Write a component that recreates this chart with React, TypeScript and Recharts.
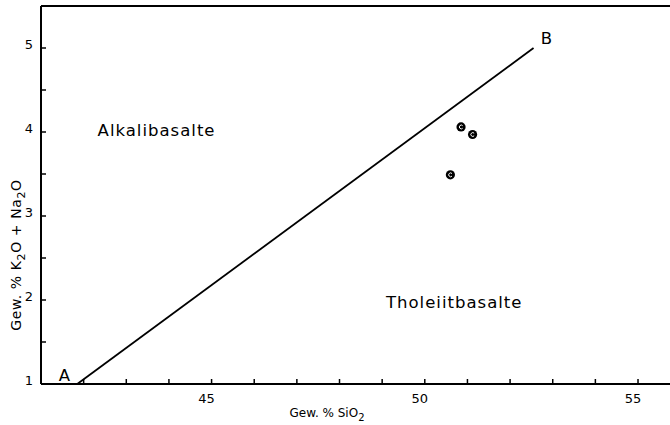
import React from 'react';
import { ComposedChart, XAxis, YAxis, Scatter, ReferenceLine, ReferenceDot } from 'recharts';

const xDomain = [41, 55.75];
const yDomain = [1, 5.5];
const xTicks = [42, 43, 44, 45, 46, 47, 48, 49, 50, 51, 52, 53, 54, 55];
const xLabeled = [45, 50, 55];
const yTicks = [1, 1.5, 2, 2.5, 3, 3.5, 4, 4.5, 5];
const yLabeled = [1, 2, 3, 4, 5];
const boundaryLine = [
  { x: 41.85, y: 1 },
  { x: 52.55, y: 5 },
];
const samples = [
  { x: 50.85, y: 4.06 },
  { x: 51.12, y: 3.97 },
  { x: 50.6, y: 3.49 },
];
const fieldLabels = [
  { name: 'Alkalibasalte', x: 43.71, y: 4.02 },
  { name: 'Tholeiitbasalte', x: 50.69, y: 1.98 },
];
const endLabels = [
  { name: 'A', x: 41.55, y: 1.107 },
  { name: 'B', x: 52.85, y: 5.12 },
];

const FONT = '"DejaVu Sans", sans-serif';

const XTick = (props: any) => {
  const { x, y, payload } = props;
  const v = payload.value;
  return (
    <g>
      <line x1={x} x2={x} y1={y} y2={y - 5} stroke="#000" strokeWidth={1.5} />
      {xLabeled.includes(v) && (
        <text x={x - 5} y={y + 19} textAnchor="middle" fontSize={13} fontFamily={FONT} fill="#000">
          {v}
        </text>
      )}
    </g>
  );
};

const YTick = (props: any) => {
  const { x, y, payload } = props;
  const v = payload.value;
  return (
    <g>
      <line x1={x} x2={x + 5} y1={y} y2={y} stroke="#000" strokeWidth={1.5} />
      {yLabeled.includes(v) && (
        <text x={x - 8} y={y + 1} textAnchor="end" fontSize={13} fontFamily={FONT} fill="#000">
          {v}
        </text>
      )}
    </g>
  );
};

const SampleDot = (props: any) => {
  const { cx, cy } = props;
  return (
    <g>
      <circle cx={cx} cy={cy} r={4.6} fill="#000" />
      <path
        d={`M ${cx + 1.6} ${cy - 1.3} A 1.9 1.9 0 1 0 ${cx + 1.6} ${cy + 1.3}`}
        stroke="#fff"
        strokeWidth={1}
        fill="none"
      />
    </g>
  );
};

const XTitle = () => {
  return (
    <text x={327} y={417} textAnchor="middle" fontSize={12} fontFamily={FONT} fill="#000">
      Gew. % SiO
      <tspan dy={4} fontSize={10}>2</tspan>
    </text>
  );
};

const YTitle = () => {
  return (
    <text
      x={0}
      y={0}
      transform="translate(21, 255) rotate(-90)"
      textAnchor="middle"
      fontSize={14}
      fontFamily={FONT}
      letterSpacing={0.6}
      fill="#000"
    >
      Gew. % K<tspan dy={4} fontSize={11}>2</tspan>
      <tspan dy={-4}>O + Na</tspan>
      <tspan dy={4} fontSize={11}>2</tspan>
      <tspan dy={-4}>O</tspan>
    </text>
  );
};

export default function App() {
  return (
    <div style={{ position: 'absolute', left: 0, top: 0, background: '#fff' }}>
      <ComposedChart
        width={670}
        height={425}
        margin={{ top: 6, right: 0, bottom: 0, left: 0 }}
        data={samples}
      >
        <XAxis
          type="number"
          dataKey="x"
          domain={xDomain}
          ticks={xTicks}
          interval={0}
          allowDataOverflow
          height={41}
          tickSize={0}
          tickMargin={0}
          tickLine={false}
          tick={<XTick />}
          axisLine={{ stroke: '#000', strokeWidth: 2 }}
          label={<XTitle />}
        />
        <YAxis
          type="number"
          dataKey="y"
          domain={yDomain}
          ticks={yTicks}
          interval={0}
          allowDataOverflow
          width={41}
          tickSize={0}
          tickMargin={0}
          tickLine={false}
          tick={<YTick />}
          axisLine={{ stroke: '#000', strokeWidth: 2 }}
          label={<YTitle />}
        />
        <ReferenceLine y={5.5} stroke="#000" strokeWidth={2} ifOverflow="visible" />
        <ReferenceLine
          segment={boundaryLine}
          stroke="#000"
          strokeWidth={1.8}
          ifOverflow="visible"
        />
        {fieldLabels.map((l) => (
          <ReferenceDot
            key={l.name}
            x={l.x}
            y={l.y}
            r={0}
            ifOverflow="visible"
            shape={(p: any) => (
              <text
                x={p.cx}
                y={p.cy + 6}
                textAnchor="middle"
                fontSize={16.5}
                letterSpacing={1}
                fontFamily={FONT}
                fill="#000"
              >
                {l.name}
              </text>
            )}
          />
        ))}
        {endLabels.map((l) => (
          <ReferenceDot
            key={l.name}
            x={l.x}
            y={l.y}
            r={0}
            ifOverflow="visible"
            shape={(p: any) => (
              <text
                x={p.cx}
                y={p.cy + 6}
                textAnchor="middle"
                fontSize={16.5}
                fontFamily={FONT}
                fill="#000"
              >
                {l.name}
              </text>
            )}
          />
        ))}
        <Scatter data={samples} dataKey="y" shape={<SampleDot />} isAnimationActive={false} />
      </ComposedChart>
    </div>
  );
}
